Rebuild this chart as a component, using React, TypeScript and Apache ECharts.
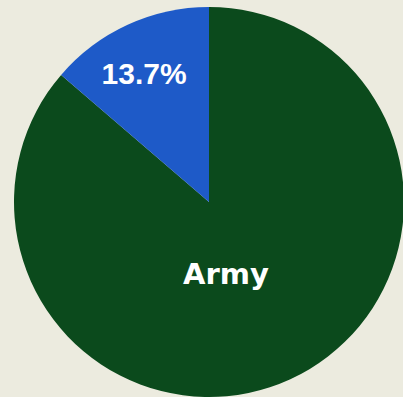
import React, { useEffect, useRef } from "react";
import * as echarts from "echarts";

const categories = ["Army", "Other"];
const values = [86.3, 13.7];
const labels = ["Army", "13.7%"];
const colors = ["#0b4a1c", "#1e5ac8"];
const labelOffsets: [number, number][] = [[-25, -19], [-23, -37]];
const labelFonts = ["DejaVu Sans, sans-serif", "Liberation Sans, Arial, sans-serif"];
const labelSizes = [29, 30];

export default function App() {
  const ref = useRef<HTMLDivElement>(null);
  useEffect(() => {
    if (!ref.current) return;
    const chart = echarts.init(ref.current, undefined, { renderer: "svg" });
    chart.setOption({
      animation: false,
      backgroundColor: "#ecebdf",
      series: [
        {
          type: "pie",
          center: [209, 202],
          radius: [0, 195],
          startAngle: 90,
          clockwise: true,
          silent: true,
          labelLine: { show: false },
          data: categories.map((c, i) => ({
            name: c,
            value: values[i],
            itemStyle: { color: colors[i], borderWidth: 0 },
            label: {
              show: true,
              position: "inside",
              formatter: labels[i],
              offset: labelOffsets[i],
              color: "#ffffff",
              fontFamily: labelFonts[i],
              fontWeight: "bold",
              fontSize: labelSizes[i],
            },
          })),
        },
      ],
    });
    return () => chart.dispose();
  }, []);
  return (
    <div
      ref={ref}
      style={{ position: "fixed", left: 0, top: 0, width: 403, height: 397 }}
    />
  );
}
